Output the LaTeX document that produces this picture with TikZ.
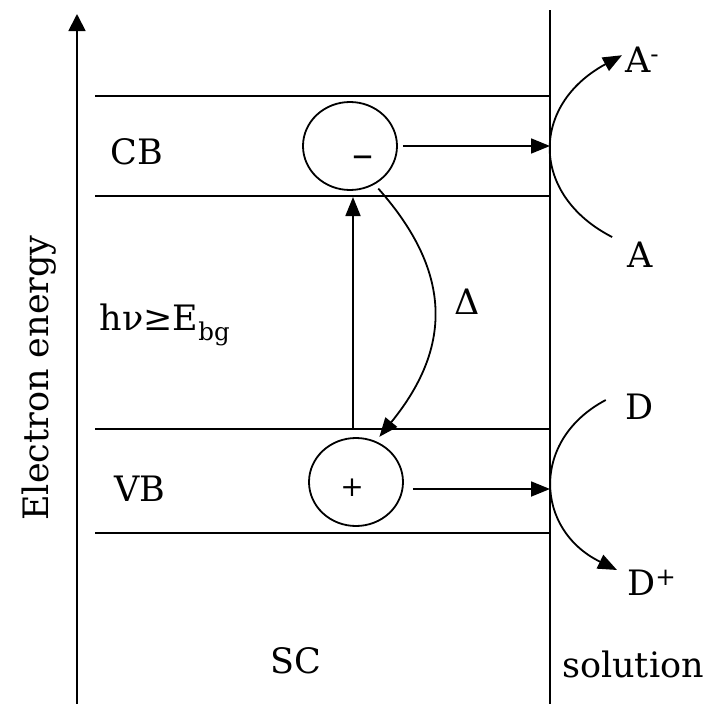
\documentclass[tikz,border=0pt]{standalone}
\usepackage{fontspec}
\setmainfont{DejaVu Serif}
\usetikzlibrary{arrows.meta,shapes.geometric}

\begin{document}
\begin{tikzpicture}[x=1pt, y=-1pt,
		lbl/.style={font=\fontsize{35}{40}\selectfont, inner sep=0pt},
		arr/.style={line width=1.8pt, -{Triangle[length=19pt,width=15pt]}},
		carrier/.style={draw, ellipse, line width=1.8pt, minimum width=94pt, minimum height=88pt, inner sep=0pt}]
	\useasboundingbox (0, 0) rectangle (710, 704);
	% energy axis
	\coordinate (axbot) at (77, 704);
	\coordinate (axtop) at (77, 14);
	\draw[line width=1.8pt, -{Triangle[length=17pt,width=17pt]}] (axbot) -- (axtop);
	\node[lbl, rotate=90] (axlbl) at (39, 378) {Electron energy};
	% interface SC / solution
	\coordinate (ifT) at (550, 10);
	\coordinate (ifB) at (550, 704);
	\draw[line width=1.8pt] (ifT) -- (ifB);
	% band edges
	\foreach \y in {96, 196, 429, 533}
		\draw[line width=1.8pt] (95, \y) -- (550, \y);
	\node[lbl] (cb) at (137, 152) {CB};
	\node[lbl] (vb) at (140, 489) {VB};
	\node[lbl] (gap) at (165, 325) {hν≥E\textsubscript{bg}};
	\node[lbl] (sc) at (296, 661) {SC};
	\node[lbl] (sol) at (633, 664) {solution};
	% electron and hole
	\node[carrier] (ecirc) at (350, 146) {};
	\node[carrier] (hcirc) at (356, 482) {};
	\node[lbl, font=\fontsize{42}{44}\selectfont] (minus) at ([shift={(13pt,-16pt)}]ecirc.center) {–};
	\node[inner sep=0pt, font=\fontsize{28}{30}\selectfont] (plus) at ([shift={(-4pt,-6pt)}]hcirc.center) {+};
	% excitation and relaxation
	\coordinate (vbtop) at (353, 429);
	\coordinate (cbbot) at (353, 197);
	\draw[arr] (vbtop) -- (cbbot);
	\draw[arr] ([shift={(2pt,-5pt)}]ecirc.-55) .. controls (455, 275) and (450, 350) .. ([shift={(2pt,5pt)}]hcirc.62);
	\node[lbl] (delta) at (467, 302) {Δ};
	% transfer to the interface
	\draw[arr] ([xshift=5pt]ecirc.east) -- (ecirc.east -| ifT);
	\draw[arr] ([shift={(9pt,-7pt)}]hcirc.east) -- ([yshift=-7pt]hcirc.east -| ifT);
	% redox couples
	\node[lbl, anchor=base west] (Am) at (625, 72) {A\textsuperscript{-}};
	\node[lbl] (A) at (640, 255) {A};
	\node[lbl] (D) at (640, 407) {D};
	\node[lbl, anchor=base west] (Dp) at (627, 595) {D\textsuperscript{+}};
	\draw[arr] ([shift={(-15pt,5pt)}]A.north west) .. controls (530, 195) and (530, 105) .. ([shift={(-3pt,4pt)}]Am.west);
	\draw[arr] ([shift={(-20pt,7pt)}]D.west) .. controls (530, 440) and (535, 530) .. ([shift={(-10pt,25pt)}]Dp.base west);
\end{tikzpicture}
\end{document}
